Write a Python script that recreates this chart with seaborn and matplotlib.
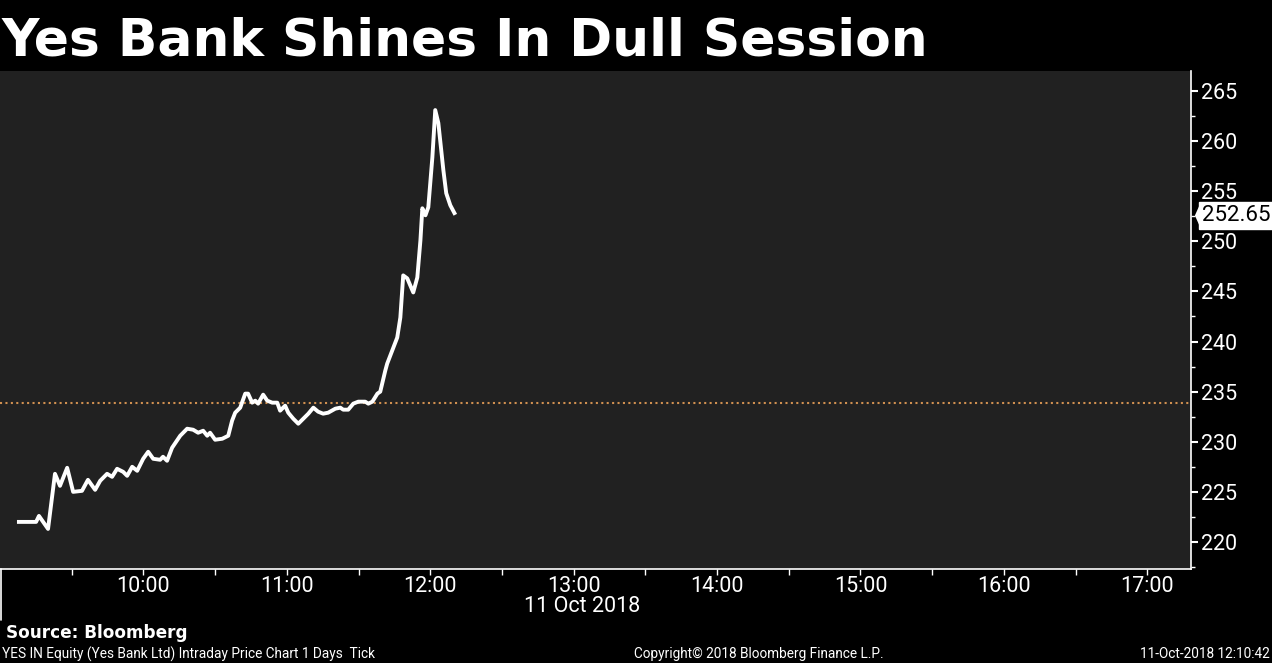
import matplotlib
matplotlib.use('Agg')
import matplotlib.pyplot as plt
import matplotlib.transforms as mtransforms
from matplotlib.lines import Line2D
import seaborn as sns
import pandas as pd

# ---- data (minutes after midnight, price in INR) ----
minutes = [547.1, 555.1, 556.3, 560.1, 563.0, 565.1, 568.1, 570.6, 574.3, 576.8,
           579.8, 581.9, 584.8, 586.9, 589.0, 591.5, 593.2, 595.3, 597.4, 599.9,
           602.0, 604.1, 607.0, 608.2, 609.9, 612.0, 615.4, 618.3, 620.8, 622.9,
           625.0, 626.7, 627.9, 630.0, 633.0, 635.5, 637.1, 638.4, 640.5, 642.6,
           643.8, 645.5, 646.8, 648.0, 650.1, 651.8, 653.9, 656.0, 657.2, 659.3,
           660.6, 662.7, 664.8, 666.9, 669.0, 671.1, 673.1, 675.2, 677.3, 680.3,
           682.4, 683.6, 685.7, 687.8, 689.9, 692.8, 694.1, 695.8, 697.9, 699.1,
           701.2, 702.0, 706.2, 707.5, 708.7, 710.4, 712.9, 714.6, 715.9, 716.7,
           718.0, 719.2, 720.9, 722.1, 723.4, 725.5, 726.7, 728.4, 730.5]
prices = [222.0, 222.0, 222.6, 221.3, 226.8, 225.6, 227.4, 225.0, 225.1, 226.2,
          225.2, 226.1, 226.8, 226.5, 227.3, 227.0, 226.6, 227.5, 227.1, 228.3,
          229.0, 228.3, 228.2, 228.5, 228.1, 229.4, 230.6, 231.3, 231.2, 230.9,
          231.1, 230.6, 230.9, 230.2, 230.3, 230.6, 232.1, 232.9, 233.4, 234.8,
          234.8, 233.9, 234.1, 233.8, 234.7, 234.1, 233.9, 233.9, 233.1, 233.6,
          232.9, 232.3, 231.8, 232.3, 232.8, 233.4, 233.0, 232.8, 232.9, 233.3,
          233.4, 233.2, 233.2, 233.8, 234.0, 234.0, 233.8, 234.0, 234.8, 235.0,
          237.1, 237.8, 240.4, 242.4, 246.6, 246.3, 244.9, 246.4, 250.1, 253.3,
          252.6, 253.4, 258.4, 263.1, 261.8, 257.1, 254.8, 253.6, 252.65]
prev_close = 233.9
last_price = 252.65
hour_ticks = [600, 660, 720, 780, 840, 900, 960, 1020]
hour_labels = ["10:00", "11:00", "12:00", "13:00", "14:00", "15:00", "16:00", "17:00"]
half_ticks = [570, 630, 690, 750, 810, 870, 930, 990]
y_ticks = [220, 225, 230, 235, 240, 245, 250, 255, 260, 265]
y_minor = [217.5, 222.5, 227.5, 232.5, 237.5, 242.5, 247.5, 252.5, 257.5, 262.5]
date_label = "11 Oct 2018"

sns.set_theme(style='dark')
plt.rcParams['font.family'] = ['Roboto', 'DejaVu Sans']

W, H = 1272, 663
fig = plt.figure(figsize=(W / 100, H / 100), dpi=100, facecolor='black')
ax = fig.add_axes([0, 1 - 569 / H, 1191 / W, (569 - 71) / H])
ax.set_facecolor('#212121')

df = pd.DataFrame({'t': minutes, 'p': prices})
sns.lineplot(data=df, x='t', y='p', color='white', lw=2.8, ax=ax,
             sort=False, estimator=None, solid_joinstyle='round',
             solid_capstyle='butt')
ax.axhline(prev_close, color='#d09050', ls=(0, (1, 1.6)), lw=1.5, zorder=1)

ax.set_xlim(540, 1038.3)
ax.set_ylim(217.3, 267.0)
ax.grid(False)
ax.set_xlabel('')
ax.set_ylabel('')

for s in ['top', 'left']:
    ax.spines[s].set_visible(False)
for s in ['bottom', 'right']:
    ax.spines[s].set_visible(True)
    ax.spines[s].set_color('white')
    ax.spines[s].set_linewidth(1.2)

ax.yaxis.tick_right()
ax.set_yticks(y_ticks)
ax.set_yticks(y_minor, minor=True)
ax.set_yticklabels([str(v) for v in y_ticks])
ax.set_xticks(hour_ticks)
ax.set_xticklabels(hour_labels)
ax.set_xticks(half_ticks, minor=True)

ax.tick_params(axis='y', which='major', direction='out', length=5, width=1.5,
               colors='white', labelsize=15.5, pad=2, right=True, left=False)
ax.tick_params(axis='y', which='minor', direction='out', length=3, width=1,
               colors='white', right=True, left=False)
ax.tick_params(axis='x', which='both', direction='out', length=4, width=1,
               colors='white', labelsize=15.5, pad=1, bottom=True)

# date label under 13:00
fig.text(582 / W, 1 - 607 / H, date_label, color='white', fontsize=15.5,
         ha='center', va='center')

# last price tag
blend = mtransforms.blended_transform_factory(ax.transAxes, ax.transData)
tip = mtransforms.offset_copy(blend, fig=fig, x=9, y=0, units='dots')
ax.plot([1.0], [last_price], transform=tip, marker=[(0, 1), (-0.45, 0), (0, -1)],
        markersize=18, color='white', clip_on=False, markeredgewidth=0)
ax.annotate(f"{last_price:.2f}", xy=(1.0, last_price), xycoords=blend,
            xytext=(11, -1), textcoords='offset pixels', ha='left', va='center',
            color='black', fontsize=16, annotation_clip=False,
            bbox=dict(boxstyle='square,pad=0.14', fc='white', ec='white'))

# left edge line below plot
fig.add_artist(Line2D([0.6 / W, 0.6 / W], [1 - 569 / H, 1 - 620 / H],
                      color='white', lw=1.2, transform=fig.transFigure))

# title and footer
fig.text(2 / W, 1 - 55 / H, "Yes Bank Shines In Dull Session", color='white',
         fontsize=37.4, weight='bold', ha='left', va='baseline',
         family=['DejaVu Sans'])
fig.text(6 / W, 1 - 633 / H, "Source: Bloomberg", color='white', fontsize=12.2,
         weight='bold', ha='left', va='center', family=['DejaVu Sans'])
fig.text(2 / W, 1 - 654 / H,
         "YES IN Equity (Yes Bank Ltd) Intraday Price Chart 1 Days  Tick",
         color='white', fontsize=9.8, ha='left', va='center')
fig.text(759 / W, 1 - 654 / H, "Copyright\u00a9 2018 Bloomberg Finance L.P.",
         color='white', fontsize=9.8, ha='center', va='center')
fig.text(1270 / W, 1 - 654 / H, "11-Oct-2018 12:10:42", color='white',
         fontsize=9.8, ha='right', va='center')

fig.savefig('out.png', dpi=100, facecolor='black')
